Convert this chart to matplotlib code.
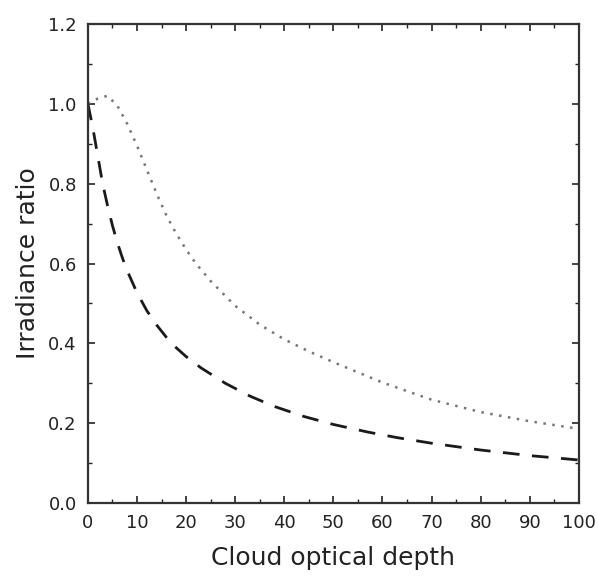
import matplotlib
matplotlib.use("Agg")
import matplotlib.pyplot as plt
from matplotlib.ticker import MultipleLocator

# cloud optical depth vs irradiance ratio
tau_dot = [0, 2, 4, 6, 8, 10, 12, 14, 16, 18, 20, 22, 25, 30, 35, 40, 45, 50,
           60, 70, 80, 90, 100]
ratio_dot = [1.0, 1.013, 1.02, 0.995, 0.95, 0.895, 0.835, 0.775, 0.72, 0.675, 0.635,
             0.60, 0.556, 0.494, 0.447, 0.410, 0.380, 0.353, 0.302, 0.259, 0.228,
             0.205, 0.186]

tau_dash = [0, 1, 2, 3, 4, 5, 6, 7, 8, 10, 12, 14, 16, 18, 20, 23, 28, 33, 38, 44,
            50, 57, 63, 70, 80, 90, 100]
ratio_dash = [1.0, 0.94, 0.87, 0.80, 0.745, 0.695, 0.652, 0.615, 0.582, 0.527, 0.482,
              0.446, 0.415, 0.389, 0.367, 0.339, 0.300, 0.268, 0.242, 0.217, 0.197,
              0.178, 0.164, 0.150, 0.133, 0.119, 0.108]

fig = plt.figure(figsize=(5.98, 5.83), dpi=100)
ax = fig.add_axes([0.147, 0.137, 0.821, 0.822])

ax.plot(tau_dot, ratio_dot, linestyle=(0, (1, 2.6)), color="#777777", linewidth=1.8)
ax.plot(tau_dash, ratio_dash, linestyle=(0, (6, 4.5)), color="#1a1a1a", linewidth=2.0)

ax.set_xlim(0, 100)
ax.set_ylim(0, 1.2)
ax.xaxis.set_major_locator(MultipleLocator(10))
ax.xaxis.set_minor_locator(MultipleLocator(5))
ax.yaxis.set_major_locator(MultipleLocator(0.2))
ax.yaxis.set_minor_locator(MultipleLocator(0.1))
ax.yaxis.set_major_formatter(plt.FormatStrFormatter("%.1f"))

ax.tick_params(which="both", direction="in", top=True, right=True, colors="#222222")
ax.tick_params(which="major", length=5, width=1.2, labelsize=13, pad=8)
ax.tick_params(which="minor", length=3, width=1.0)
for s in ax.spines.values():
    s.set_linewidth(1.6)
    s.set_color("#333333")

ax.set_xlabel("Cloud optical depth", fontsize=18, labelpad=10, color="#222222")
ax.set_ylabel("Irradiance ratio", fontsize=18, labelpad=6, color="#222222")

fig.savefig("out.png", dpi=100)
